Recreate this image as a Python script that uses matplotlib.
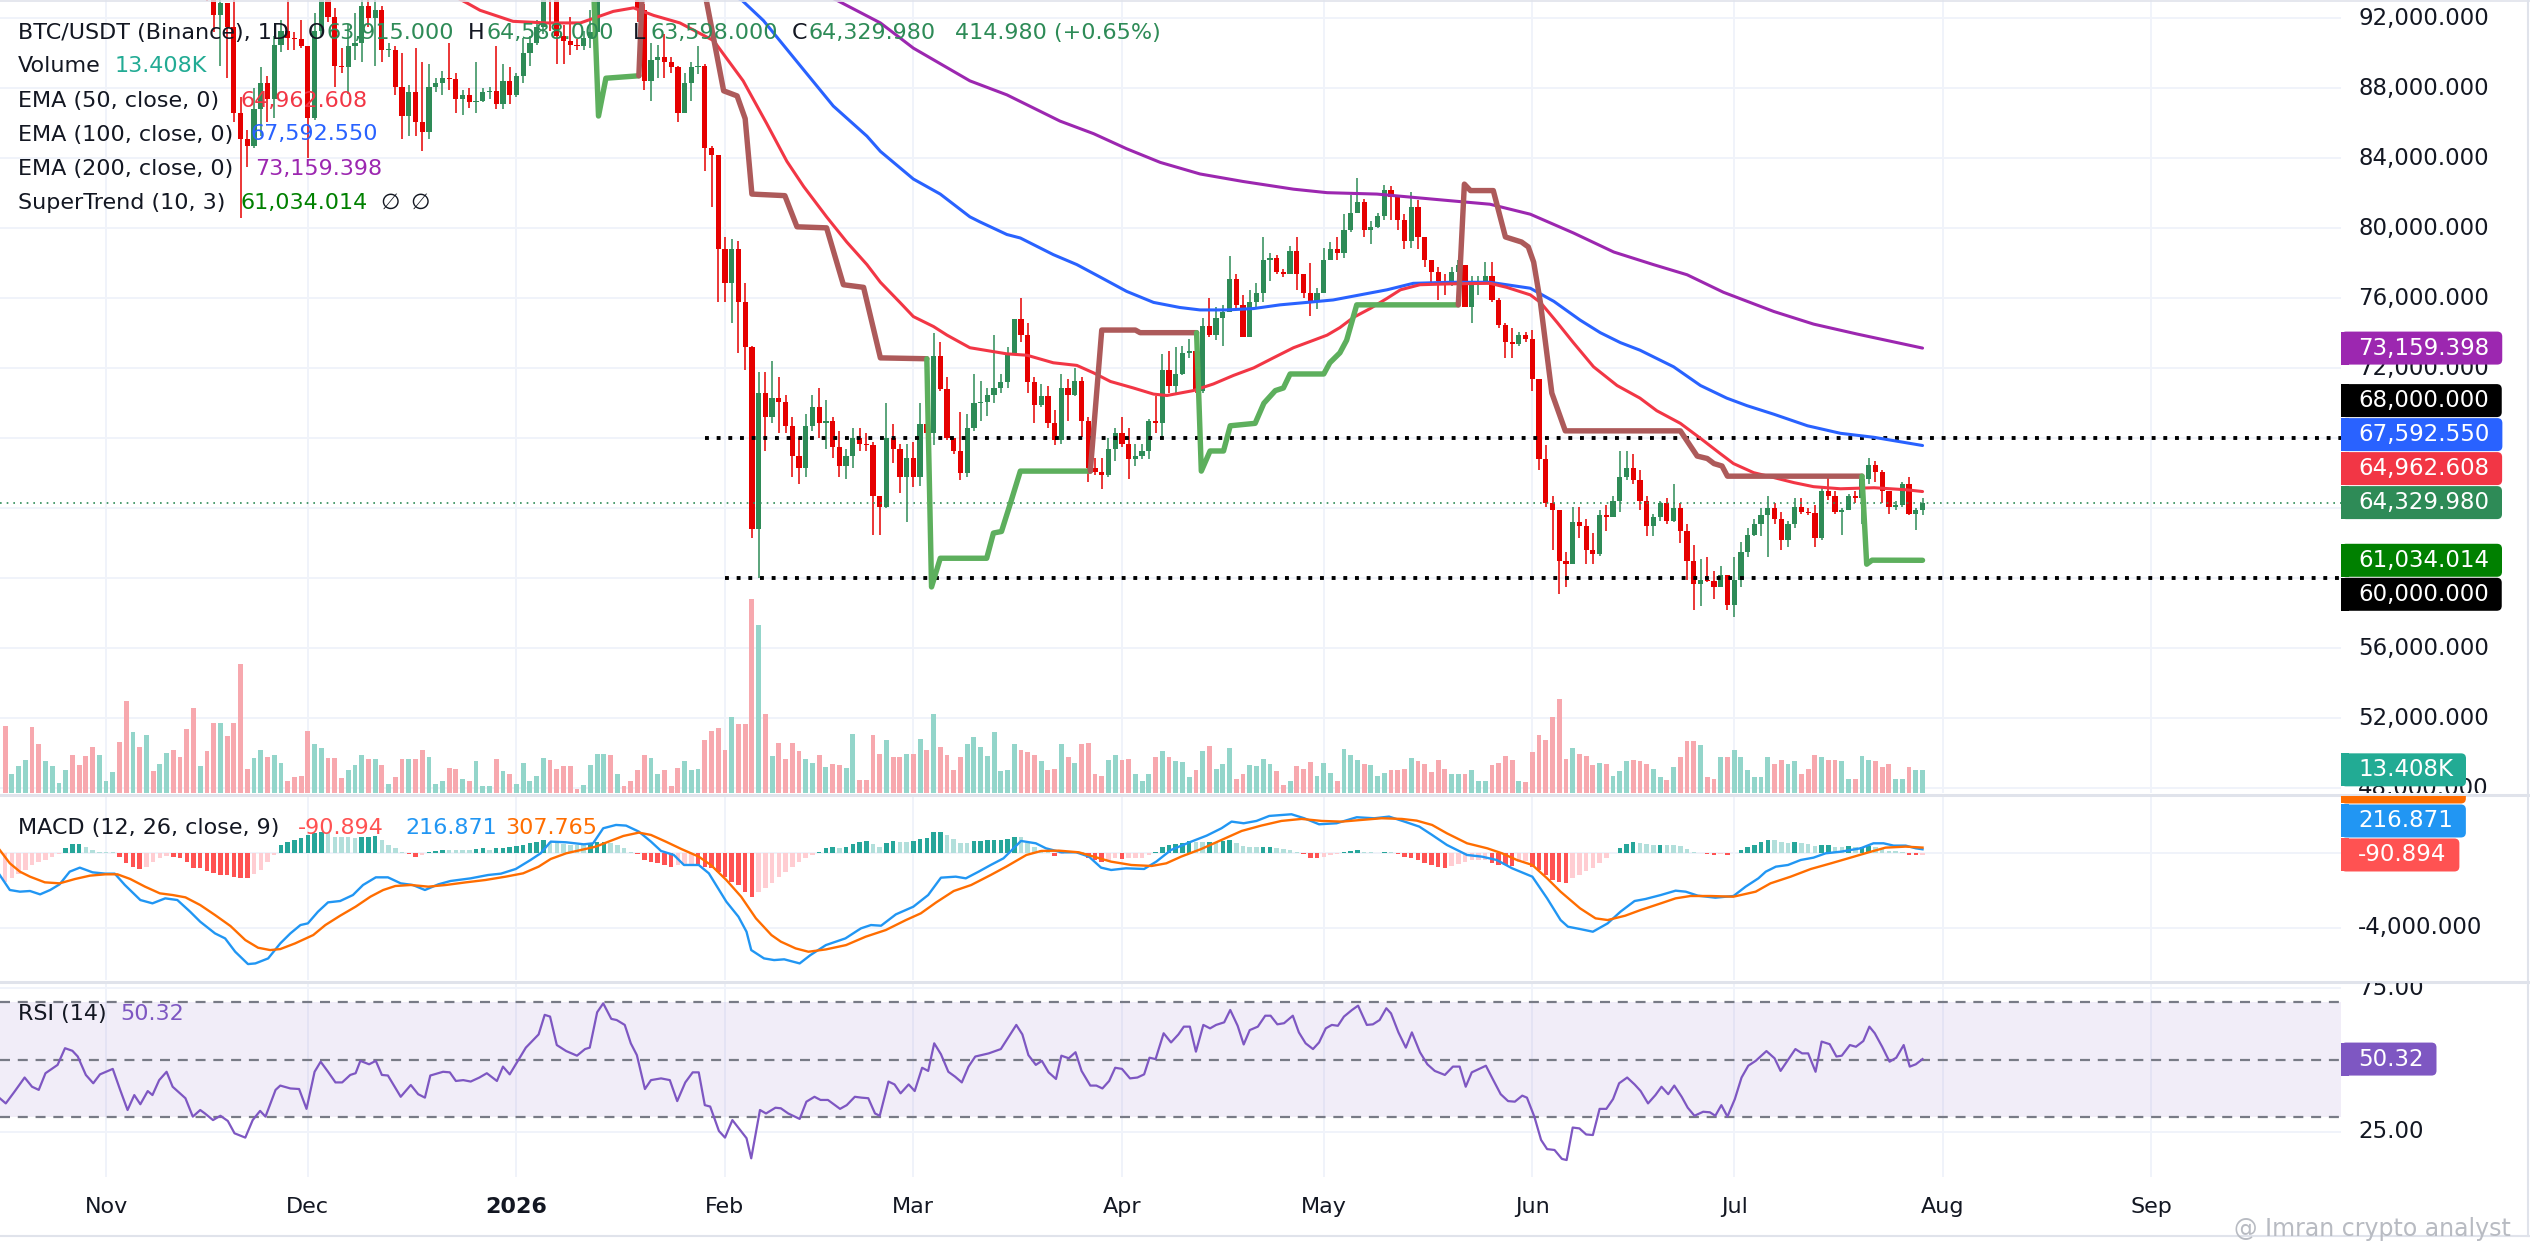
import numpy as np
import pandas as pd
import matplotlib
matplotlib.use("Agg")
import matplotlib.pyplot as plt
import matplotlib.dates as mdates
from matplotlib.patches import FancyBboxPatch, Rectangle

plt.rcParams["font.family"] = ["DejaVu Sans"]

W, H, DPI = 2530, 1253, 100

# ---------------- data ----------------
# daily BTC/USDT candles in thousands of USDT, first candle 2025-10-17
first_day = "2025-10-17"
first_open = 108.2

close_k = [
    # Oct
    106.4, 107.2, 108.6, 110.5, 108.4, 107.6, 110.0, 111.0, 111.6, 114.5, 114.1, 112.9, 110.0, 108.3, 109.6,
    # Nov
    110.1, 110.6, 106.5, 101.5, 103.9, 101.3, 103.3, 102.3, 104.7, 106.0,
    103.0, 101.6, 99.7, 94.5, 95.5, 94.2, 92.2, 92.9, 91.5, 86.6,
    85.1, 84.7, 86.8, 88.3, 87.4, 90.5, 91.3, 90.9, 90.8, 90.4,
    # Dec
    86.3, 91.3, 93.4, 92.1, 89.3, 89.2, 90.4, 90.6, 92.7, 92.0,
    92.5, 90.2, 90.2, 88.1, 86.4, 87.8, 86.1, 85.5, 88.1, 88.3,
    88.6, 88.55, 87.4, 87.6, 87.2, 87.3, 87.8, 87.85, 87.1, 88.4,
    87.6,
    # Jan
    88.7, 90.0, 90.6, 91.5, 93.9, 93.7, 91.0, 90.7, 90.5, 90.4,
    90.9, 91.2, 95.3, 97.0, 95.5, 95.5, 95.1, 93.6, 92.5, 88.4,
    89.6, 89.8, 89.5, 89.2, 86.6, 88.3, 89.2, 89.3, 84.6, 84.2,
    78.8,
    # Feb
    76.9, 78.8, 75.8, 73.2, 62.8, 70.6, 69.2, 70.3, 70.1, 68.7,
    67.0, 66.3, 68.7, 69.8, 68.9, 69.0, 67.5, 66.4, 67.0, 68.0,
    67.7, 67.6, 64.7, 64.1, 68.0, 67.4, 65.8, 66.9,
    # Mar
    65.8, 68.8, 68.3, 72.7, 70.8, 68.0, 67.3, 66.0, 68.6, 70.0,
    70.1, 70.5, 70.9, 71.2, 72.9, 74.8, 73.9, 71.2, 69.9, 70.4,
    68.9, 67.9, 70.9, 70.5, 71.3, 69.0, 66.3, 66.1, 65.9, 67.4,
    68.3,
    # Apr
    67.7, 66.8, 67.0, 67.3, 69.0, 68.9, 71.9, 71.0, 71.7, 72.9,
    73.0, 70.7, 74.4, 73.9, 74.9, 75.2, 77.1, 75.6, 73.8, 75.8,
    76.3, 78.2, 78.3, 77.5, 77.4, 78.7, 77.4, 76.3, 75.8, 76.3,
    # May
    78.2, 78.8, 78.6, 79.9, 80.9, 81.5, 79.9, 80.1, 80.7, 82.2,
    81.8, 80.5, 79.3, 81.2, 79.5, 78.2, 77.5, 77.0, 76.8, 77.5,
    77.9, 75.5, 76.9, 77.0, 77.3, 75.9, 74.5, 73.5, 73.4, 73.9,
    73.7,
    # Jun
    71.4, 66.8, 64.3, 63.9, 61.0, 60.8, 63.2, 63.0, 61.6, 61.4,
    63.6, 63.5, 64.4, 65.8, 66.3, 65.6, 64.4, 63.0, 63.5, 64.3,
    63.3, 64.0, 62.7, 61.0, 59.7, 59.9, 59.85, 59.5, 60.2, 58.5,
    # Jul
    59.9, 61.5, 62.5, 63.1, 63.6, 64.0, 63.4, 62.2, 63.1, 64.1,
    63.8, 63.75, 62.3, 65.0, 64.7, 63.8, 63.9, 64.7, 64.6, 65.7,
    66.5, 66.1, 65.0, 64.1, 64.2, 65.4, 63.7, 63.915, 64.32998,
]

high_k = [
    # Oct
    109.2, 107.5, 109.5, 111.7, 114.0, 109.1, 110.4, 112.0, 111.9, 115.0, 116.4, 116.1, 113.6, 111.6, 111.2,
    # Nov
    110.6, 111.2, 110.8, 106.6, 104.5, 104.2, 104.0, 103.4, 105.0, 106.7,
    107.5, 105.3, 104.0, 99.8, 96.8, 96.6, 96.0, 93.8, 92.9, 93.2,
    87.5, 85.6, 88.0, 89.2, 88.7, 91.0, 91.9, 93.1, 91.2, 91.9,
    # Dec
    90.4, 92.3, 94.1, 94.0, 92.6, 90.3, 91.7, 92.3, 94.6, 94.5,
    93.5, 92.7, 90.6, 90.4, 90.0, 88.2, 90.3, 89.5, 89.4, 88.6,
    89.0, 90.6, 88.9, 87.9, 88.0, 89.5, 88.0, 88.1, 90.4, 89.4,
    89.2,
    # Jan
    88.9, 90.9, 91.0, 91.9, 94.8, 94.7, 93.8, 91.6, 92.1, 90.8,
    91.3, 92.5, 96.4, 97.9, 97.2, 95.8, 95.6, 95.5, 93.6, 92.8,
    90.6, 90.5, 91.1, 89.8, 89.3, 88.9, 89.5, 90.4, 89.4, 84.7,
    84.2,
    # Feb
    79.5, 79.4, 79.3, 76.9, 73.3, 71.8, 71.8, 72.4, 71.5, 70.5,
    69.2, 68.0, 69.4, 70.5, 70.9, 70.2, 69.2, 68.4, 67.4, 68.6,
    68.6, 68.3, 67.8, 64.7, 70.0, 68.8, 67.7, 67.7,
    # Mar
    67.8, 70.0, 68.9, 74.0, 73.5, 71.5, 68.0, 69.5, 69.4, 71.7,
    71.3, 70.9, 73.9, 71.7, 73.2, 74.8, 76.0, 74.6, 71.5, 71.1,
    71.0, 69.6, 71.7, 71.4, 72.0, 71.5, 69.2, 66.9, 66.9, 68.0,
    68.6,
    # Apr
    69.2, 68.6, 67.7, 67.7, 69.1, 70.4, 72.8, 73.0, 73.2, 73.3,
    73.7, 73.9, 74.9, 76.0, 75.5, 75.6, 78.4, 77.4, 76.2, 76.5,
    76.9, 79.5, 78.6, 78.5, 77.7, 79.0, 79.5, 77.4, 78.0, 76.6,
    # May
    78.9, 79.2, 79.5, 80.8, 81.9, 82.9, 81.7, 80.4, 80.9, 82.5,
    82.4, 81.8, 80.8, 82.1, 81.6, 79.2, 78.2, 77.8, 77.4, 77.8,
    78.2, 77.9, 77.3, 77.3, 78.1, 78.1, 76.0, 74.6, 74.3, 74.1,
    74.1,
    # Jun
    74.2, 71.4, 67.6, 64.7, 63.9, 61.5, 64.1, 64.1, 63.4, 62.6,
    63.9, 64.2, 64.7, 67.3, 67.3, 67.1, 66.2, 64.7, 63.7, 64.4,
    64.6, 65.4, 64.3, 63.1, 61.9, 61.1, 61.2, 60.4, 60.7, 60.2,
    # Jul
    61.2, 62.1, 62.9, 63.4, 64.0, 64.7, 64.3, 63.8, 63.3, 64.6,
    64.6, 64.0, 64.2, 65.3, 65.8, 65.0, 64.0, 64.8, 65.0, 65.8,
    66.9, 66.7, 66.2, 65.0, 64.4, 65.5, 65.8, 64.03, 64.588,
]

low_k = [
    # Oct
    103.5, 106.3, 106.1, 107.5, 107.4, 106.6, 107.5, 109.5, 110.6, 111.3, 113.9, 112.0, 109.3, 106.3, 108.6,
    # Nov
    109.4, 109.6, 105.3, 98.9, 98.9, 100.3, 99.3, 101.4, 101.5, 104.3,
    102.5, 100.8, 98.0, 94.0, 94.6, 93.0, 91.2, 89.3, 88.6, 86.1,
    80.6, 83.5, 84.6, 85.3, 86.1, 86.3, 90.1, 90.2, 90.2, 90.3,
    # Dec
    84.0, 86.2, 91.0, 91.8, 88.1, 88.9, 87.7, 89.6, 89.5, 91.5,
    89.3, 89.5, 89.8, 87.6, 85.1, 85.3, 85.3, 84.4, 85.1, 87.8,
    87.6, 87.9, 86.6, 86.5, 86.9, 86.6, 87.2, 87.4, 86.8, 86.8,
    87.1,
    # Jan
    87.5, 88.3, 89.3, 90.5, 91.1, 91.3, 89.4, 89.4, 89.9, 90.2,
    90.2, 90.3, 91.0, 94.8, 95.0, 94.3, 94.9, 93.5, 91.8, 87.9,
    87.3, 88.6, 88.6, 88.9, 86.1, 86.6, 87.3, 88.8, 83.3, 81.2,
    75.8,
    # Feb
    75.8, 74.6, 72.9, 71.9, 62.3, 60.0, 67.3, 68.9, 68.3, 68.3,
    65.8, 65.4, 65.8, 68.4, 68.0, 67.4, 66.9, 65.8, 65.7, 66.3,
    67.3, 67.3, 62.5, 62.5, 64.0, 66.6, 64.9, 63.2,
    # Mar
    65.2, 65.3, 68.1, 67.6, 70.7, 67.9, 67.1, 65.6, 65.8, 68.4,
    69.0, 69.3, 70.0, 70.6, 70.9, 72.8, 73.5, 70.6, 68.9, 69.8,
    68.6, 67.6, 67.7, 69.0, 70.4, 68.1, 65.5, 65.9, 65.1, 65.8,
    66.7,
    # Apr
    67.5, 65.7, 66.4, 66.8, 66.8, 68.3, 68.0, 70.6, 70.6, 71.6,
    72.6, 70.6, 70.6, 73.8, 73.6, 73.3, 75.2, 75.4, 73.8, 73.8,
    75.5, 75.8, 77.0, 77.4, 77.2, 77.4, 76.5, 76.0, 75.0, 75.4,
    # May
    76.3, 78.2, 78.2, 78.3, 79.8, 80.9, 79.5, 79.1, 80.0, 80.5,
    80.5, 79.9, 78.8, 78.9, 78.8, 77.8, 76.8, 75.9, 76.2, 76.7,
    75.9, 75.5, 74.6, 76.2, 76.9, 75.8, 74.3, 72.6, 72.6, 73.3,
    73.5,
    # Jun
    70.7, 66.2, 64.1, 61.6, 59.1, 59.5, 60.8, 62.3, 60.8, 60.8,
    61.3, 62.7, 63.5, 63.8, 65.6, 65.4, 63.9, 62.4, 62.4, 63.3,
    63.1, 63.2, 62.0, 59.9, 58.2, 58.4, 59.8, 58.8, 59.5, 58.2,
    # Jul
    57.8, 59.5, 61.2, 62.4, 62.4, 61.2, 63.1, 61.6, 61.8, 62.9,
    63.7, 63.6, 61.8, 62.2, 64.5, 63.7, 62.5, 63.9, 64.3, 63.1,
    65.4, 65.5, 64.3, 63.7, 63.9, 64.1, 63.6, 62.76, 63.598,
]

volume_k = [
    # Oct
    38.8, 11.1, 15.5, 19.0, 38.2, 28.6, 18.4, 15.5, 5.8, 13.4, 21.9, 16.0, 21.3, 26.5, 21.9,
    # Nov
    6.7, 12.0, 29.4, 53.4, 35.3, 26.5, 33.8, 12.5, 17.0, 23.3,
    24.8, 20.7, 37.3, 49.0, 15.5, 24.2, 40.8, 40.8, 32.9, 40.8,
    74.6, 14.0, 20.4, 25.0, 20.7, 21.9, 17.5, 6.7, 9.0, 10.0,
    # Dec
    35.9, 28.6, 26.2, 20.4, 20.4, 8.7, 13.1, 16.3, 21.9, 19.8,
    19.8, 16.3, 5.2, 9.0, 19.8, 19.8, 19.8, 24.8, 20.7, 5.2,
    6.7, 14.6, 14.0, 8.2, 6.7, 18.4, 3.8, 3.8, 19.8, 12.5,
    11.1,
    # Jan
    5.2, 17.5, 6.7, 9.6, 20.4, 19.0, 14.0, 15.5, 15.5, 2.3,
    4.4, 16.3, 22.7, 22.7, 21.9, 11.1, 3.8, 6.7, 13.4, 22.2,
    20.4, 11.1, 13.4, 3.8, 14.6, 18.4, 13.1, 14.0, 30.6, 35.9,
    37.9,
    # Feb
    25.1, 44.0, 39.7, 39.7, 112.2, 97.1, 45.5, 21.3, 29.2, 19.8,
    29.2, 24.2, 19.8, 17.5, 21.9, 14.9, 16.9, 16.0, 14.6, 34.4,
    7.6, 7.6, 33.5, 22.7, 30.9, 20.7, 20.7, 22.7,
    # Mar
    22.7, 31.5, 24.8, 45.5, 26.5, 22.2, 13.1, 20.7, 28.6, 32.4,
    26.5, 21.3, 35.3, 12.5, 13.4, 28.6, 24.8, 23.6, 22.2, 18.4,
    13.4, 14.0, 28.6, 20.7, 17.5, 28.6, 29.2, 11.1, 9.6, 19.0,
    21.9,
    # Apr
    19.0, 19.8, 11.1, 6.7, 11.1, 20.7, 24.2, 20.7, 18.4, 17.8,
    9.0, 13.1, 24.2, 27.1, 14.0, 16.9, 26.2, 8.2, 11.1, 16.3,
    15.5, 19.8, 16.9, 12.5, 4.7, 6.7, 15.5, 14.0, 17.8, 9.6,
    # May
    17.5, 11.7, 6.7, 25.7, 22.2, 19.2, 16.9, 16.3, 9.6, 11.7,
    13.1, 13.1, 14.0, 20.4, 18.4, 16.9, 12.0, 19.2, 14.0, 11.1,
    11.1, 11.1, 13.4, 6.7, 6.7, 16.0, 17.5, 21.3, 19.0, 6.7,
    6.1,
    # Jun
    23.6, 33.5, 30.6, 44.0, 54.2, 19.8, 26.2, 22.7, 21.3, 16.0,
    17.5, 16.9, 9.6, 12.5, 18.4, 19.0, 18.4, 16.9, 14.0, 9.0,
    7.6, 14.9, 20.7, 30.0, 30.0, 28.0, 9.0, 8.2, 20.7, 20.7,
    # Jul
    24.8, 20.7, 13.4, 9.0, 9.0, 20.7, 16.9, 19.0, 16.9, 18.4,
    11.1, 14.0, 21.9, 20.7, 19.0, 19.0, 18.4, 8.2, 8.2, 21.3,
    19.0, 18.4, 14.9, 16.9, 8.2, 8.2, 14.9, 13.4, 13.408,
]

macd_hist = [
    # Oct
    -1560, -1345, -1130, -897, -628, -448, -359, -179, -54, 269, 484, 500, 359, 179, 90,
    # Nov
    54, 54, -179, -538, -717, -843, -717, -448, -269, -143,
    -179, -269, -448, -771, -807, -950, -1076, -1166, -1180, -1256,
    -1309, -1320, -1130, -897, -448, -90, 448, 628, 717, 807,
    # Dec
    986, 1076, 1130, 1076, 897, 890, 885, 843, 880, 900,
    915, 717, 448, 269, 90, -54, -179, -90, 90, 143,
    179, 175, 172, 170, 168, 215, 269, 179, 269, 305,
    359,
    # Jan
    412, 448, 538, 628, 717, 628, 538, 484, 448, 440,
    436, 538, 592, 628, 538, 448, 269, 90, -54, -359,
    -448, -538, -628, -717, -628, -620, -592, -628, -717, -807,
    -986,
    # Feb
    -1256, -1525, -1704, -2063, -2332, -2063, -1883, -1614, -1250, -1000,
    -717, -448, -233, -90, 54, 269, 323, 305, 359, 484,
    628, 663, 484, 359, 538, 663, 628, 620,
    # Mar
    640, 771, 843, 1130, 1135, 986, 771, 538, 530, 663,
    670, 717, 720, 725, 771, 897, 890, 538, 359, 179,
    54, -125, -54, 54, 90, 54, -269, -359, -448, -359,
    -269,
    # Apr
    -305, -269, -265, -233, -90, 54, 359, 448, 484, 574,
    663, 628, 625, 630, 625, 681, 717, 538, 412, 359,
    355, 360, 365, 269, 233, 179, 90, -54, -233, -269,
    # May
    -179, -90, -54, 54, 125, 179, 54, 50, 0, 54,
    50, -54, -179, -233, -359, -538, -628, -717, -771, -663,
    -592, -448, -359, -355, -350, -538, -628, -630, -663, -448,
    -440,
    # Jun
    -717, -897, -1166, -1435, -1560, -1614, -1345, -1166, -951, -807,
    -538, -269, 36, 269, 484, 592, 538, 484, 448, 460,
    448, 440, 412, 233, 90, 36, -54, -90, -36, -90,
    # Jul
    36, 179, 359, 448, 628, 717, 710, 628, 574, 592,
    538, 484, 412, 448, 460, 359, 355, 370, 323, 359,
    412, 359, 215, 125, 120, 90, -90, -92, -90.894,
]

# indicator lines: (days after 2025-11-01, value)
origin = "2025-11-01"

ema50_pts = [
    (30, 98.0), (45, 94.6), (53.6, 92.89), (55.6, 92.46), (60.5, 91.83), (65.5, 91.74), (70.5, 91.74),
    (75.4, 92.40), (78.4, 92.60), (81.4, 92.17), (85.3, 91.74), (90.3, 90.73), (94.7, 88.43), (98.2, 85.99),
    (101.2, 83.83), (103.7, 82.39), (107.1, 80.66), (110.1, 79.22), (113.1, 77.93), (115.1, 76.92),
    (118.0, 75.77), (120.0, 74.96), (123.0, 74.39), (125.0, 73.90), (128.4, 73.18), (133.9, 72.83),
    (136.9, 72.75), (140.8, 72.32), (144.3, 72.17), (146.8, 71.74), (149.3, 71.25), (152.7, 70.88),
    (155.7, 70.53), (157.7, 70.45), (161.6, 70.73), (164.6, 71.11), (167.6, 71.60), (170.6, 72.03),
    (173.5, 72.60), (176.5, 73.18), (179.5, 73.61), (181.5, 73.90), (183.4, 74.33), (185.4, 74.91),
    (187.9, 75.42), (190.4, 76.00), (192.4, 76.49), (195.3, 76.78), (199.8, 76.83), (205.7, 76.86),
    (208.2, 76.63), (211.7, 76.20), (213.2, 75.77), (215.7, 74.62), (218.1, 73.47), (221.1, 72.09),
    (224.6, 71.02), (228.0, 70.30), (230.5, 69.58), (234.0, 68.86), (237.0, 68.00), (239.9, 67.14),
    (241.9, 66.56), (244.9, 66.04), (247.9, 65.76), (250.9, 65.47), (253.8, 65.24), (257.8, 65.12),
    (262.8, 65.18), (267.7, 65.06), (270, 64.962608),
]

ema100_pts = [
    (60, 97.6), (80, 95.6), (94.5, 93.04), (97.7, 91.88), (103.2, 89.29), (108.1, 86.99), (113.1, 85.27),
    (115.1, 84.40), (120.0, 82.82), (124.0, 81.96), (128.4, 80.66), (129.9, 80.37), (133.9, 79.65),
    (135.9, 79.45), (140.8, 78.50), (144.3, 77.93), (147.8, 77.21), (151.7, 76.40), (155.7, 75.77),
    (159.6, 75.48), (162.6, 75.34), (166.6, 75.34), (170.6, 75.42), (174.5, 75.63), (178.5, 75.77),
    (182.4, 75.91), (186.4, 76.20), (190.4, 76.49), (194.3, 76.86), (199.8, 76.92), (205.7, 76.92),
    (211.7, 76.58), (215.2, 75.83), (219.1, 74.76), (222.1, 74.04), (225.1, 73.47), (228.0, 73.04),
    (233.0, 72.09), (237.0, 71.02), (240.9, 70.30), (243.9, 69.87), (247.9, 69.38), (252.9, 68.72),
    (257.8, 68.29), (262.8, 68.06), (270, 67.59255),
]

ema200_pts = [
    (90, 96.0), (100, 94.5), (108.6, 93.04), (115.1, 91.74), (120.0, 90.30), (128.4, 88.43), (133.9, 87.63),
    (141.8, 86.13), (146.8, 85.41), (151.7, 84.55), (156.7, 83.77), (162.6, 83.11), (169.0, 82.68),
    (176.5, 82.24), (181.5, 82.04), (188.9, 81.96), (199.8, 81.58), (205.7, 81.38), (211.7, 80.81),
    (218.1, 79.74), (224.1, 78.65), (230.0, 77.93), (235.0, 77.35), (240.4, 76.35), (247.9, 75.25),
    (253.8, 74.53), (260.3, 73.96), (270, 73.159398),
]

supertrend = [
    ("down", [(-16, 116.0), (18, 104.0), (40, 97.5), (72.2, 96.5)]),
    ("up", [(72.2, 96.5), (73.2, 86.42), (74.3, 88.58), (79.2, 88.72)]),
    ("down", [(79.2, 88.72), (80.0, 96.3), (88.0, 95.5), (91.8, 87.86), (93.8, 87.57), (95.0, 86.27),
              (96.0, 81.96), (100.9, 81.87), (102.7, 80.09), (107.1, 80.03), (109.6, 76.78), (112.6, 76.63),
              (115.1, 72.60), (122.0, 72.55)]),
    ("up", [(122.0, 72.55), (122.7, 59.51), (124.0, 61.15), (130.9, 61.15), (131.9, 62.59), (133.1, 62.68),
            (134.4, 64.26), (135.9, 66.13), (146.3, 66.13)]),
    ("down", [(146.3, 66.13), (148.0, 74.19), (153.0, 74.19), (153.7, 74.04), (162.1, 74.04)]),
    ("up", [(162.1, 74.04), (162.8, 66.13), (164.1, 67.28), (166.1, 67.28), (167.1, 68.72), (170.8, 68.86),
            (172.1, 70.01), (173.8, 70.73), (175.0, 70.88), (176.0, 71.68), (181.0, 71.68), (181.9, 72.32),
            (183.4, 72.89), (184.4, 73.61), (185.9, 75.63), (201.0, 75.63)]),
    ("down", [(201.0, 75.63), (201.9, 82.53), (202.8, 82.16), (206.2, 82.16), (208.0, 79.51), (210.4, 79.22),
              (211.4, 78.94), (212.2, 78.07), (213.2, 75.77), (214.9, 70.59), (216.9, 68.43), (234.0, 68.43),
              (236.5, 66.99), (238.0, 66.85), (239.0, 66.56), (240.2, 66.42), (241.0, 65.84), (261.0, 65.84)]),
    ("up", [(261.0, 65.84), (261.7, 60.81), (262.5, 61.04), (270, 61.034014)]),
]

macd_pts = [
    (-15.8, -1166), (-14.3, -1973), (-12.8, -2063), (-11.3, -2027), (-9.8, -2207), (-8.3, -1973),
    (-6.9, -1668), (-5.4, -987), (-3.9, -771), (-2.0, -1023), (-0.1, -1094), (1.3, -1094), (2.8, -1704),
    (5.1, -2512), (6.9, -2691), (8.8, -2422), (10.6, -2512), (12.5, -3140), (14.0, -3678), (16.2, -4306),
    (17.7, -4575), (19.2, -5292), (21.1, -5956), (22.2, -5920), (24.1, -5651), (25.9, -4844), (27.4, -4306),
    (28.9, -3857), (30.0, -3767), (31.5, -3140), (33.0, -2637), (34.8, -2565), (36.7, -2243), (38.2, -1704),
    (40.1, -1292), (41.9, -1292), (43.8, -1615), (45.6, -1704), (47.4, -1973), (49.4, -1668), (51.2, -1489),
    (54.2, -1346), (56.8, -1166), (58.7, -1094), (60.9, -843), (63.1, -359), (64.6, 0), (66.1, 628),
    (68.4, 592), (71.0, 484), (72.4, 538), (73.9, 1346), (75.8, 1525), (77.3, 1489), (79.2, 1166),
    (81.0, 628), (82.5, 126), (84.4, -90), (85.9, -628), (88.1, -628), (89.6, -1076), (92.2, -2601),
    (94.0, -3409), (95.2, -4216), (95.9, -5203), (97.8, -5651), (99.3, -5741), (100.8, -5700),
    (103.1, -5920), (104.7, -5472), (107.0, -4934), (109.9, -4575), (112.2, -4037), (113.7, -3857),
    (115.2, -3893), (117.4, -3283), (120.0, -2870), (122.2, -2243), (124.1, -1310), (126.3, -1256),
    (127.8, -1346), (129.7, -987), (131.5, -628), (133.4, -269), (136.0, 664), (138.2, 538), (139.7, 269),
    (142.0, 54), (144.2, 54), (146.1, -179), (147.9, -771), (149.4, -897), (151.6, -807), (154.3, -843),
    (156.1, -449), (158.3, 179), (161.3, 628), (163.6, 951), (165.8, 1346), (167.3, 1704), (169.1, 1615),
    (171.0, 1740), (172.9, 2009), (176.2, 2099), (178.1, 1884), (180.3, 1561), (182.9, 1615), (185.9, 1938),
    (188.5, 1884), (190.7, 1973), (193.0, 1704), (195.2, 1435), (197.1, 987), (199.3, 449), (202.3, -90),
    (204.5, -179), (206.7, -359), (209.0, -807), (212.0, -1256), (214.2, -2422), (216.2, -3588),
    (217.3, -3947), (219.1, -4072), (221.0, -4216), (223.2, -3767), (225.1, -3140), (227.2, -2565),
    (228.8, -2458), (231.1, -2243), (233.3, -2009), (234.8, -2063), (236.6, -2278), (239.2, -2386),
    (241.9, -2296), (243.7, -1794), (245.6, -1346), (246.7, -987), (248.2, -718), (250.0, -628),
    (251.9, -359), (253.8, -233), (255.6, 0), (257.9, 90), (260.8, 269), (262.7, 538), (264.2, 538),
    (265.7, 413), (267.5, 413), (269.0, 269), (270.0, 216.871),
]

signal_pts = [
    (-15.8, 179), (-14.3, -538), (-12.8, -987), (-11.3, -1256), (-9.1, -1561), (-6.9, -1615), (-4.6, -1381),
    (-2.4, -1202), (-0.1, -1130), (1.7, -1130), (3.6, -1381), (5.8, -1794), (8.0, -2153), (9.9, -2243),
    (11.8, -2368), (14.0, -2781), (16.2, -3319), (18.5, -3911), (20.7, -4664), (22.6, -5077), (24.4, -5203),
    (25.9, -5149), (28.1, -4844), (30.8, -4395), (32.6, -3857), (34.8, -3355), (37.1, -2870), (39.3, -2332),
    (41.2, -1973), (43.0, -1758), (45.3, -1704), (47.9, -1794), (50.5, -1704), (53.5, -1561), (56.4, -1435),
    (59.4, -1256), (62.0, -1076), (64.3, -718), (66.1, -305), (68.4, 0), (70.6, 179), (72.8, 359),
    (74.7, 628), (76.9, 933), (79.2, 1112), (81.0, 987), (83.2, 628), (85.5, 233), (88.1, -179),
    (89.9, -628), (92.2, -1435), (94.4, -2332), (96.6, -3498), (98.9, -4395), (100.3, -4750),
    (102.5, -5113), (104.4, -5292), (107.0, -5167), (110.0, -4934), (112.9, -4485), (115.9, -4126),
    (118.9, -3588), (121.1, -3229), (123.4, -2637), (126.0, -2027), (128.6, -1704), (131.5, -1166),
    (133.8, -718), (136.8, -90), (139.0, 126), (141.6, 144), (144.6, 54), (146.8, -179), (149.4, -449),
    (152.4, -628), (155.4, -682), (157.6, -538), (159.8, -179), (162.8, 233), (165.8, 718), (168.8, 1202),
    (171.7, 1489), (174.7, 1740), (177.7, 1848), (180.7, 1740), (183.7, 1704), (186.6, 1794), (189.6, 1884),
    (192.6, 1848), (194.8, 1758), (197.1, 1525), (199.3, 1076), (202.3, 538), (205.3, 269), (207.5, 0),
    (209.7, -359), (212.0, -628), (214.2, -1346), (216.2, -2063), (219.1, -2960), (221.4, -3498),
    (223.2, -3588), (225.8, -3355), (228.1, -3050), (231.1, -2691), (233.3, -2422), (235.5, -2296),
    (238.5, -2296), (241.9, -2332), (245.2, -2063), (247.4, -1615), (250.4, -1256), (253.4, -843),
    (256.4, -538), (259.3, -233), (262.0, 54), (264.5, 305), (267.5, 359), (270.0, 307.765),
]

rsi_pts = [
    (-15.8, 36.7), (-14.9, 34.9), (-13.6, 39.0), (-12.1, 43.9), (-11.0, 40.7), (-10.0, 39.6), (-9.0, 45.4),
    (-7.2, 48.3), (-6.1, 54.1), (-5.0, 53.2), (-4.2, 51.2), (-3.0, 44.8), (-1.9, 41.9), (-0.9, 45.0),
    (1.0, 46.9), (2.1, 39.6), (3.2, 32.6), (4.2, 37.8), (5.1, 34.6), (6.2, 39.2), (6.9, 37.8), (7.9, 43.0),
    (9.0, 45.9), (9.9, 40.7), (11.8, 36.7), (12.9, 30.3), (14.0, 32.6), (14.7, 31.4), (15.9, 29.1),
    (17.0, 30.6), (18.1, 28.8), (19.1, 24.5), (20.7, 23.0), (21.8, 29.1), (22.9, 32.3), (23.7, 30.3),
    (25.2, 39.6), (25.9, 41.1), (27.4, 40.1), (28.7, 39.9), (29.8, 33.0), (31.0, 45.9), (31.9, 49.4),
    (33.0, 45.9), (34.1, 42.2), (35.1, 42.2), (36.3, 44.8), (37.1, 45.4), (37.8, 49.7), (39.1, 48.5),
    (40.1, 49.7), (41.0, 44.8), (41.9, 44.6), (43.8, 37.2), (45.3, 41.3), (46.4, 38.1), (47.4, 36.9),
    (48.2, 44.6), (50.1, 45.9), (51.1, 45.7), (52.0, 42.7), (53.1, 43.0), (54.2, 42.5), (55.5, 43.9),
    (56.6, 45.4), (58.1, 42.7), (59.0, 47.7), (60.0, 45.0), (61.3, 50.0), (62.4, 54.3), (64.3, 58.9),
    (65.2, 65.7), (66.0, 65.1), (67.0, 55.2), (68.4, 53.1), (70.0, 51.5), (71.2, 53.8), (71.9, 54.3),
    (73.0, 66.6), (73.9, 69.7), (75.1, 64.3), (75.9, 63.9), (77.1, 62.2), (78.0, 55.8), (78.9, 51.7),
    (80.1, 39.9), (81.0, 43.0), (82.5, 43.6), (83.8, 43.0), (84.9, 35.7), (86.1, 42.2), (87.2, 45.7),
    (88.1, 45.7), (89.0, 34.3), (89.8, 33.8), (91.1, 25.3), (92.0, 23.0), (93.1, 29.1), (95.2, 22.8),
    (95.9, 15.8), (97.2, 32.6), (98.1, 31.4), (99.5, 33.4), (100.3, 33.2), (101.4, 31.4), (103.1, 29.5),
    (104.1, 35.5), (105.3, 37.2), (106.2, 36.1), (107.3, 36.1), (109.1, 33.0), (110.1, 34.3), (111.3, 37.2),
    (112.3, 36.9), (113.3, 36.7), (114.3, 31.4), (115.0, 30.6), (116.3, 42.5), (117.2, 41.5), (118.1, 38.4),
    (119.3, 41.5), (120.2, 39.2), (121.3, 47.3), (122.2, 46.2), (123.1, 55.8), (124.1, 52.0), (125.2, 45.9),
    (126.2, 44.2), (127.2, 42.2), (128.2, 47.7), (129.2, 51.2), (130.1, 51.7), (131.2, 52.3), (133.0, 53.8),
    (134.1, 57.8), (135.3, 62.2), (136.2, 58.9), (137.1, 51.7), (138.2, 48.3), (139.1, 49.7), (140.1, 45.7),
    (141.2, 43.4), (142.0, 51.5), (143.1, 50.6), (144.1, 52.7), (145.0, 46.2), (146.3, 41.1), (147.2, 41.1),
    (148.1, 40.1), (149.1, 42.7), (150.0, 47.3), (151.0, 46.9), (152.2, 43.6), (153.3, 43.9), (154.3, 45.0),
    (155.1, 50.8), (156.0, 50.3), (157.2, 59.3), (158.3, 56.1), (159.4, 58.9), (160.2, 61.6), (161.1, 61.6),
    (162.0, 52.9), (163.1, 62.2), (164.1, 61.0), (165.0, 62.2), (166.2, 63.1), (167.1, 67.4), (168.2, 61.9),
    (169.1, 55.4), (170.0, 60.4), (171.2, 61.6), (172.3, 65.4), (173.1, 65.4), (174.1, 62.4), (175.1, 62.8),
    (176.4, 65.4), (177.3, 59.6), (178.3, 55.8), (179.4, 53.8), (180.3, 56.1), (181.3, 61.0), (182.2, 62.2),
    (183.1, 61.9), (184.0, 65.1), (185.2, 67.4), (186.1, 68.9), (187.4, 62.2), (188.3, 62.4), (189.3, 63.9),
    (190.3, 68.0), (191.0, 66.2), (192.1, 59.6), (193.2, 54.3), (194.1, 59.6), (195.3, 52.7), (196.4, 48.5),
    (197.5, 46.2), (199.0, 44.8), (200.2, 47.7), (201.2, 47.7), (202.1, 40.7), (203.0, 45.7), (205.1, 48.0),
    (206.2, 43.0), (207.3, 38.1), (208.4, 35.7), (209.4, 35.5), (210.5, 37.6), (211.2, 36.9), (212.3, 30.3),
    (213.3, 22.2), (214.2, 19.0), (215.3, 18.7), (216.4, 15.6), (217.1, 15.2), (218.0, 26.5), (219.0, 26.2),
    (220.0, 24.1), (221.0, 23.9), (222.0, 33.0), (223.0, 33.0), (224.0, 36.4), (224.9, 41.9), (226.1, 43.9),
    (227.2, 41.5), (228.1, 39.2), (229.2, 34.9), (230.3, 37.8), (231.2, 40.7), (232.2, 38.1), (233.1, 41.1),
    (234.2, 37.2), (235.1, 33.4), (236.1, 30.6), (237.4, 32.0), (238.4, 31.8), (239.2, 30.6), (240.1, 34.3),
    (241.0, 30.3), (242.1, 36.4), (243.1, 43.9), (244.1, 48.0), (245.2, 49.7), (246.8, 53.1), (248.0, 50.6),
    (248.9, 46.2), (250.0, 50.0), (251.1, 53.8), (252.1, 52.3), (253.0, 52.3), (254.1, 45.9), (255.0, 56.4),
    (256.2, 55.5), (257.2, 51.2), (258.0, 51.5), (259.2, 55.2), (260.1, 54.6), (261.2, 56.6), (262.1, 61.6),
    (262.9, 59.3), (264.0, 54.6), (265.1, 49.4), (266.1, 50.8), (267.2, 55.2), (268.1, 47.7), (269.0, 48.5),
    (270.0, 50.32),
]

# drawn horizontal rays: price, start (days after origin)
levels = [(68000, 89.0), (60000, 92.0)]

month_ticks = ["2025-11-01", "2025-12-01", "2026-01-01", "2026-02-01", "2026-03-01", "2026-04-01",
               "2026-05-01", "2026-06-01", "2026-07-01", "2026-08-01", "2026-09-01"]
month_labels = ["Nov", "Dec", "2026", "Feb", "Mar", "Apr", "May", "Jun", "Jul", "Aug", "Sep"]
price_ticks = list(range(48000, 92001, 4000))

# ---------------- colours ----------------
UP, DN = "#2E8B57", "#E60000"
VUP, VDN = "#93D5CA", "#F7A8AE"
GRID = "#F0F3FA"
SEP = "#E0E3EB"
TXT = "#131722"
C50, C100, C200 = "#F23645", "#2962FF", "#9C27B0"
ST_UP, ST_DN = "#5DAF5D", "#AD5A5A"
C_MACD, C_SIG = "#2196F3", "#FF6D00"
C_RSI = "#7E57C2"

# ---------------- prepare ----------------
close = np.array(close_k) * 1000
high = np.array(high_k) * 1000
low = np.array(low_k) * 1000
opn = np.concatenate([[first_open * 1000], close[:-1]])
high = np.maximum(high, np.maximum(opn, close))
low = np.minimum(low, np.minimum(opn, close))
n = len(close)
cx = mdates.date2num(pd.date_range(first_day, periods=n).to_pydatetime())
up = close >= opn
base = mdates.date2num(pd.Timestamp(origin).to_pydatetime())


def pts(p, scale=1.0):
    d, v = zip(*p)
    return base + np.array(d), np.array(v) * scale


fig = plt.figure(figsize=(W / DPI, H / DPI), dpi=DPI)
fig.patch.set_facecolor("white")


def rect(l, t, r, b):
    return [l / W, 1 - b / H, (r - l) / W, (b - t) / H]


PR = 2341
ax_v = fig.add_axes(rect(0, 0, PR, 793))
ax_p = fig.add_axes(rect(0, 0, PR, 793), sharex=ax_v)
ax_p.set_facecolor("none")
ax_m = fig.add_axes(rect(0, 796, PR, 980), sharex=ax_v)
ax_r = fig.add_axes(rect(0, 983, PR, 1177), sharex=ax_v)

for a in (ax_v, ax_p, ax_m, ax_r):
    for s in a.spines.values():
        s.set_visible(False)
    a.tick_params(left=False, bottom=False, right=False, labelleft=False, labelbottom=False)

ax_v.set_xlim(base - 15.76, base + 332.2)
ax_p.set_ylim(47736, 93050)
ax_v.set_ylim(0, 459)
ax_m.set_ylim(-6812, 3081)
ax_r.set_ylim(9.3, 76.78)

month_x = mdates.date2num(pd.to_datetime(month_ticks).to_pydatetime())
for a in (ax_v, ax_m, ax_r):
    for x in month_x:
        a.axvline(x, color=GRID, lw=1.4, zorder=0)
for v in price_ticks:
    ax_v.axhline((v - 47736) / (93050 - 47736) * 459, color=GRID, lw=1.4, zorder=0)

# volume
ax_v.bar(cx, volume_k, width=0.72, color=np.where(up, VUP, VDN), zorder=2)

# candles
ccol = np.where(up, UP, DN)
ax_p.vlines(cx, low, high, colors=ccol, lw=1.1, zorder=3)
ax_p.bar(cx, np.maximum(np.abs(close - opn), 60), bottom=np.minimum(opn, close), width=0.78,
         color=ccol, zorder=4)

# EMAs
for p, c in ((ema200_pts, C200), (ema100_pts, C100), (ema50_pts, C50)):
    x, y = pts(p, 1000)
    ax_p.plot(x, y, color=c, lw=2.2, zorder=5, solid_capstyle="round")

# SuperTrend
for trend, p in supertrend:
    x, y = pts(p, 1000)
    ax_p.plot(x, y, color=ST_UP if trend == "up" else ST_DN, lw=3.9, zorder=5,
              solid_capstyle="round", solid_joinstyle="round")

# horizontal rays and last-price line
for price, start in levels:
    ax_p.hlines(price, base + start, base + 400, colors="black", lw=2.8,
                linestyles=(0, (1, 2)), zorder=4.5)
ax_p.axhline(close[-1], color=UP, lw=1.2, ls=(0, (1, 3)), zorder=4.5)

# MACD
hist = np.array(macd_hist, dtype=float)
prev = np.concatenate([[hist[0]], hist[:-1]])
hcol = np.where(hist >= 0, np.where(hist > prev, "#26A69A", "#B2DFDB"),
                np.where(hist < prev, "#FF5252", "#FFCDD2"))
for g in (0, -4000):
    ax_m.axhline(g, color=GRID, lw=1.4, zorder=0)
ax_m.bar(cx, hist, width=0.67, color=hcol, zorder=2)
x, y = pts(macd_pts)
ax_m.plot(x, y, color=C_MACD, lw=1.7, zorder=3)
x, y = pts(signal_pts)
ax_m.plot(x, y, color=C_SIG, lw=1.7, zorder=3)

# RSI
for g in (25, 75):
    ax_r.axhline(g, color=GRID, lw=1.4, zorder=0)
ax_r.axhspan(30, 70, color=C_RSI, alpha=0.1, lw=0, zorder=1)
for g in (70, 50, 30):
    ax_r.axhline(g, color="#787B86", lw=1.6, ls=(0, (4.5, 3.5)), zorder=2)
x, y = pts(rsi_pts)
ax_r.plot(x, y, color=C_RSI, lw=1.6, zorder=3)

# ---------------- overlay: scales, labels, legend ----------------
ov = fig.add_axes([0, 0, 1, 1])
ov.set_xlim(0, W)
ov.set_ylim(H, 0)
ov.axis("off")
renderer = fig.canvas.get_renderer()

clip_p = Rectangle((PR, 0), W - PR, 793, transform=ov.transData)
clip_m = Rectangle((PR, 796), W - PR, 184, transform=ov.transData)
clip_r = Rectangle((PR, 983), W - PR, 194, transform=ov.transData)


def py(ax, value):
    return H - ax.transData.transform((base, value))[1]


def scale_texts(ax, ticks, fmt, clip, boxes):
    # a tick label that sits wholly under a value box is not drawn
    for v in ticks:
        yc = py(ax, v)
        if any(abs(yc - b) < 17 for b in boxes):
            continue
        t = ov.text(2358, yc, fmt.format(v), color=TXT, fontsize=16.5, va="center", ha="left", zorder=2)
        t.set_clip_path(clip)
        t.set_clip_on(True)


def value_box(yc, s, color, clip):
    t = ov.text(2358, yc, s, color="white", fontsize=16.5, va="center", ha="left", zorder=4)
    t.set_clip_path(clip)
    t.set_clip_on(True)
    right = t.get_window_extent(renderer).x1 + 13
    box = FancyBboxPatch((PR, yc - 16.5), right - PR, 33, boxstyle="round,pad=0,rounding_size=5",
                         fc=color, ec="none", zorder=3)
    sq = Rectangle((PR, yc - 16.5), 8, 33, fc=color, ec="none", zorder=3)
    for a in (box, sq):
        ov.add_patch(a)
        a.set_clip_path(clip)


def stack(items, h=34):
    items = sorted(items, key=lambda it: it[0])
    k = [i for i, it in enumerate(items) if it[3]][0]
    ys = [it[0] for it in items]
    for i in range(k - 1, -1, -1):
        ys[i] = min(ys[i], ys[i + 1] - h)
    for i in range(k + 1, len(ys)):
        ys[i] = max(ys[i], ys[i - 1] + h)
    return [(y, it[1], it[2]) for y, it in zip(ys, items)]


ema50_last = ema50_pts[-1][1] * 1000
ema100_last = ema100_pts[-1][1] * 1000
ema200_last = ema200_pts[-1][1] * 1000
st_last = supertrend[-1][1][-1][1] * 1000
price_boxes = stack([
    (py(ax_p, ema200_last), f"{ema200_last:,.3f}", C200, False),
    (py(ax_p, levels[0][0]), f"{levels[0][0]:,.3f}", "black", False),
    (py(ax_p, ema100_last), f"{ema100_last:,.3f}", C100, False),
    (py(ax_p, ema50_last), f"{ema50_last:,.3f}", C50, False),
    (py(ax_p, close[-1]), f"{close[-1]:,.3f}", UP, True),
    (py(ax_p, st_last), f"{st_last:,.3f}", "#008000", False),
    (py(ax_p, levels[1][0]), f"{levels[1][0]:,.3f}", "black", False),
])
vol_box_y = py(ax_v, volume_k[-1])

macd_last, sig_last, hist_last = macd_pts[-1][1], signal_pts[-1][1], macd_hist[-1]
macd_boxes = stack([
    (py(ax_m, sig_last), f"{sig_last:,.3f}", C_SIG, False),
    (py(ax_m, macd_last), f"{macd_last:,.3f}", C_MACD, False),
    (py(ax_m, hist_last), f"{hist_last:,.3f}", "#FF5252", True),
])
rsi_last = rsi_pts[-1][1]
rsi_box_y = py(ax_r, rsi_last)

scale_texts(ax_p, price_ticks, "{:,.3f}", clip_p, [b[0] for b in price_boxes])
scale_texts(ax_m, (0, -4000), "{:,.3f}", clip_m, [b[0] for b in macd_boxes])
scale_texts(ax_r, (75, 50, 25), "{:.2f}", clip_r, [rsi_box_y])

for yc, s, c in price_boxes:
    value_box(yc, s, c, clip_p)
value_box(vol_box_y, f"{volume_k[-1]:.3f}K", "#22AB94", clip_p)
for yc, s, c in macd_boxes:
    value_box(yc, s, c, clip_m)
value_box(rsi_box_y, f"{rsi_last:.2f}", C_RSI, clip_r)

# month labels
for x, lab in zip(month_x, month_labels):
    xp = ax_r.transData.transform((x, 0))[0]
    ov.text(xp, 1207, lab, ha="center", va="center", fontsize=16, color=TXT,
            fontweight="bold" if lab == "2026" else "normal")

# legends
FS = 16
o, hi, lo, c = opn[-1], high[-1], low[-1], close[-1]
chg = c - o
row = 33
ov.text(18, row, "BTC/USDT (Binance), 1D", fontsize=FS, color=TXT, va="center")
for letter, lx, vx, val in (("O", 308, 327, o), ("H", 468, 487, hi), ("L", 633, 650, lo), ("C", 792, 809, c)):
    ov.text(lx, row, letter, fontsize=FS, color=TXT, va="center")
    ov.text(vx, row, f"{val:,.3f}", fontsize=FS, color=UP, va="center")
ov.text(955, row, f"{chg:,.3f} ({chg / o * 100:+.2f}%)", fontsize=FS, color=UP, va="center")

legend_rows = [
    (66.5, "Volume", 115, f"{volume_k[-1]:.3f}K", "#22AB94"),
    (101, "EMA (50, close, 0)", 240, f"{ema50_last:,.3f}", C50),
    (134.5, "EMA (100, close, 0)", 251, f"{ema100_last:,.3f}", C100),
    (169, "EMA (200, close, 0)", 255, f"{ema200_last:,.3f}", C200),
    (203, "SuperTrend (10, 3)", 241, f"{st_last:,.3f}", "#008000"),
]
for yy, name, vx, val, col in legend_rows:
    ov.text(18, yy, name, fontsize=FS, color=TXT, va="center")
    ov.text(vx, yy, val, fontsize=FS, color=col, va="center")
ov.text(380, 203, "\u2205", fontsize=FS, color=TXT, va="center")
ov.text(410, 203, "\u2205", fontsize=FS, color=TXT, va="center")

ov.text(18, 828, "MACD (12, 26, close, 9)", fontsize=FS, color=TXT, va="center")
ov.text(298, 828, f"{hist_last:,.3f}", fontsize=FS, color="#FF5252", va="center")
ov.text(405, 828, f"{macd_last:,.3f}", fontsize=FS, color=C_MACD, va="center")
ov.text(505, 828, f"{sig_last:,.3f}", fontsize=FS, color=C_SIG, va="center")
ov.text(18, 1014, "RSI (14)", fontsize=FS, color=TXT, va="center")
ov.text(120, 1014, f"{rsi_last:.2f}", fontsize=FS, color=C_RSI, va="center")

# separators and frame
for yy in (794.5, 981.5):
    ov.plot([0, W], [yy, yy], color=SEP, lw=2.2, zorder=0.5)
ov.plot([0, W], [1236, 1236], color=SEP, lw=1.5, zorder=0.5)
ov.plot([2528, 2528], [0, 1236], color=SEP, lw=1.5, zorder=0.5)
ov.plot([0, W], [0.8, 0.8], color=SEP, lw=1.2, zorder=0.5)

ov.text(2234, 1229, "@ Imran crypto analyst", fontsize=17, color="#B8BBC2", va="center", ha="left")

fig.savefig("out.png", dpi=DPI, facecolor="white")
